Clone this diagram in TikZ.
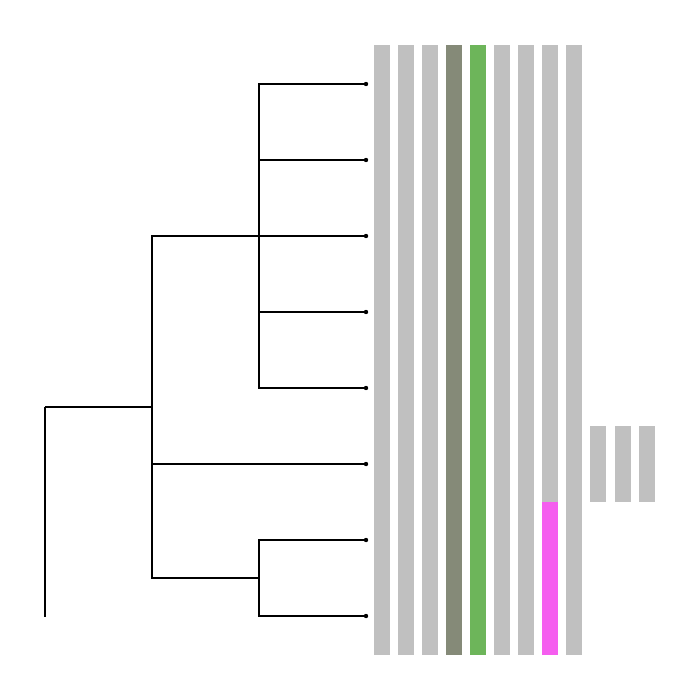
\documentclass[tikz,border=0pt]{standalone}
\usepackage{tikz}
\usetikzlibrary{positioning}
\definecolor{BarGray}{HTML}{C0C0C0}
\definecolor{BarOlive}{HTML}{858A78}
\definecolor{BarGreen}{HTML}{6DB55A}
\definecolor{BarPink}{HTML}{F55EEF}
\begin{document}
\begin{tikzpicture}[
    x=1pt, y=-1pt,
    branch/.style={draw=black, line width=1.3pt},
    leafdot/.style={fill=black},
    bar/.style={fill=BarGray, draw=none}
  ]
    \useasboundingbox (0,0) rectangle (700,700);

    % trait columns
    \foreach \c/\col in {0/BarGray,1/BarGray,2/BarGray,3/BarOlive,4/BarGreen,5/BarGray,6/BarGray,7/BarGray,8/BarGray}
      \fill[\col] (374+24*\c,45) rectangle ++(16,610);
    \fill[BarPink] (542,502) rectangle (558,655);

    % legend columns
    \foreach \c in {0,1,2}
      \fill[BarGray] (590+24.5*\c,426) rectangle ++(16,76);

    % leaves
    \foreach \i in {1,...,8}
      \coordinate (l\i) at (366,{84+76*(\i-1)});

    % internal nodes
    \coordinate (n5) at (259,236);
    \coordinate (n2) at (259,578);
    \coordinate (n1) at (152,407);
    \coordinate (root) at (45,407);
    \coordinate (rootend) at (45,617);

    % branches
    \foreach \i in {1,...,5}
      \draw[branch] (n5) |- (l\i);
    \draw[branch] (n2) |- (l7);
    \draw[branch] (n2) |- (l8);
    \draw[branch] (n1) |- (n5);
    \draw[branch] (n1) |- (l6);
    \draw[branch] (n1) |- (n2);
    \draw[branch] (root) -- (n1);
    \draw[branch] (root) -- (rootend);

    \foreach \i in {1,...,8}
      \fill[leafdot] (l\i) circle (2.2);
  \end{tikzpicture}
\end{document}
